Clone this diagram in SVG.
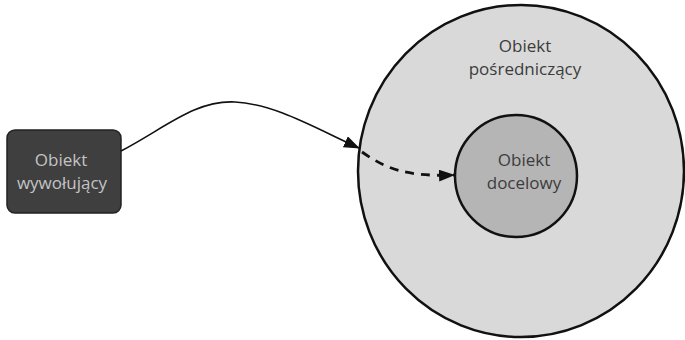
<svg xmlns="http://www.w3.org/2000/svg" width="685" height="340" viewBox="0 0 685 340">
  <style>
    .lbl { font-family: "Open Sans", "Liberation Sans", sans-serif; font-size: 17px; text-anchor: middle; }
    .dark { fill: #3c3c3c; }
    .light { fill: #c4c4c4; }
    .edge { fill: none; stroke: #111; stroke-width: 1.6; }
    .edge.dashed { stroke-width: 2.8; stroke-dasharray: 9 7; }
  </style>
  <defs>
    <marker id="arrowBig" viewBox="0 0 16 12" refX="15" refY="6" markerWidth="16" markerHeight="12" markerUnits="userSpaceOnUse" orient="auto">
      <path d="M0,0 L16,6 L0,12 Z" fill="#111"/>
    </marker>
  </defs>

  <rect width="685" height="340" fill="#ffffff"/>

  <g id="proxy">
    <ellipse cx="521" cy="171" rx="163" ry="166" fill="#d9d9d9" stroke="#111" stroke-width="2.5"/>
    <text class="lbl dark" x="525" y="52">Obiekt</text>
    <text class="lbl dark" x="525" y="75">pośredniczący</text>
  </g>

  <g id="target">
    <circle cx="516" cy="176" r="61" fill="#b5b5b5" stroke="#111" stroke-width="2.5"/>
    <text class="lbl dark" x="524" y="166">Obiekt</text>
    <text class="lbl dark" x="524" y="189">docelowy</text>
  </g>

  <g id="caller">
    <rect x="7" y="130" width="114" height="83" rx="8" ry="8" fill="#3f3f3f" stroke="#222" stroke-width="1.5"/>
    <text class="lbl light" x="61" y="166">Obiekt</text>
    <text class="lbl light" x="62" y="189">wywołujący</text>
  </g>

  <g id="connectors">
    <path class="edge" d="M121,151 C165,128 195,100 235,102 C275,104 315,128 359,148" marker-end="url(#arrowBig)"/>
    <path class="edge dashed" d="M362,152 C385,168 405,177 454,175" marker-end="url(#arrowBig)"/>
  </g>
</svg>
